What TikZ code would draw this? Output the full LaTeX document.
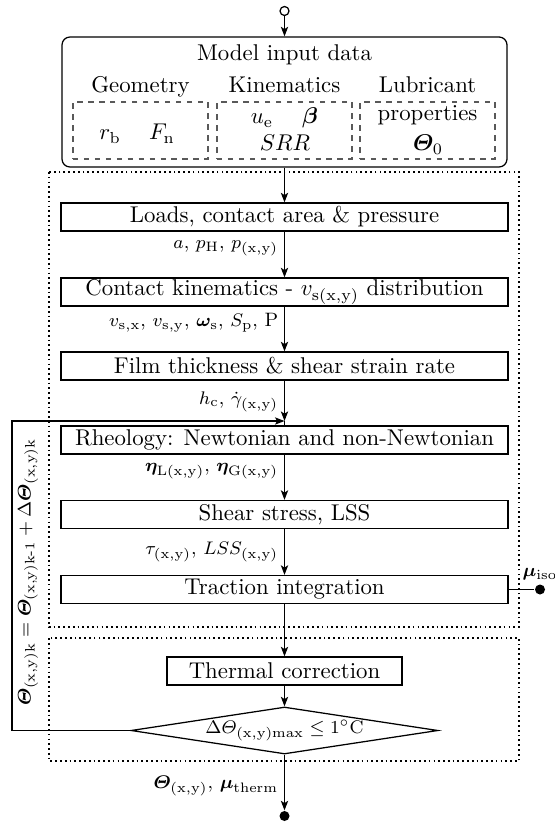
\documentclass[tikz,border=0pt]{standalone}
\usepackage{amsmath,bm}
\usetikzlibrary{arrows.meta,shapes.geometric}
\newcommand\pxl[1]{#1*0.4386pt}
\newcommand\labsize{\fontsize{8.5}{10}\selectfont}
\begin{document}
\begin{tikzpicture}[x=0.4386pt,y=-0.4386pt, line width=0.55pt,
  arr/.style={-{Stealth[length=4.2pt,width=3.2pt,inset=1pt]}},
  proc/.style={draw, rectangle, inner sep=0pt, minimum width=\pxl{447}, minimum height=\pxl{28}},
  dashbox/.style={draw=black!65, line width=0.45pt, dash pattern=on 2.4pt off 2.4pt, rectangle, inner sep=0pt, minimum width=\pxl{135}, minimum height=\pxl{57}},
  dotbox/.style={line width=0.75pt, dash pattern=on 0.75pt off 1.35pt},
  lab/.style={left, inner sep=2.5pt, font=\labsize},
  inb/.style={anchor=base, inner sep=0pt},
  dotnode/.style={circle, fill, inner sep=0pt, minimum size=\pxl{10}}]
\useasboundingbox (0,0) rectangle (555,828);
\clip (0,0) rectangle (555,828);

% dotted groups
\draw[dotbox] (49,172) rectangle (519,627);
\draw[dotbox] (49,638) rectangle (519,761);

% input block
\node[circle, draw, inner sep=0pt, minimum size=\pxl{9}] (start) at (284.5,11) {};
\node[draw, rounded corners=3.5pt, inner sep=0pt, minimum width=\pxl{445}, minimum height=\pxl{130}] (input) at (284.5,102) {};
\node[inb] (title) at (284.5,61) {Model input data};
\node[inb] (hgeo) at (140.5,93) {Geometry};
\node[inb] (hkin) at (284.5,93) {Kinematics};
\node[inb] (hlub) at (427.5,93) {Lubricant};
\node[dashbox] (bgeo) at (140.5,130.5) {};
\node[dashbox] (bkin) at (284.5,130.5) {};
\node[dashbox] (blub) at (427.5,130.5) {};
\node[inb] (rb) at (110,140) {$r_{\mathrm{b}}$};
\node[inb] (fn) at (162,140) {$F_{\mathrm{n}}$};
\node[inb] (ue) at (262,124) {$u_{\mathrm{e}}$};
\node[inb] (beta) at (310,124) {$\bm{\beta}$};
\node[inb] (srr) at (285,151) {$SRR$};
\node[inb] (lub1) at (427.5,121) {properties};
\node[inb] (lub2) at (428,151) {$\bm{\varTheta}_{0}$};

% process boxes
\node[proc] (loads) at (284.5,217) {Loads, contact area \& pressure};
\node[proc] (kinem) at (284.5,292) {Contact kinematics - $v_{\mathrm{s(x,y)}}$ distribution};
\node[proc] (film) at (284.5,366) {Film thickness \& shear strain rate};
\node[proc] (rheo) at (284.5,440) {Rheology: Newtonian and non-Newtonian};
\node[proc] (shear) at (284.5,514.5) {Shear stress, LSS};
\node[proc] (tract) at (284.5,589.5) {Traction integration};
\node[draw, rectangle, inner sep=0pt, minimum width=\pxl{235}, minimum height=\pxl{28}] (thermal) at (284.5,671) {Thermal correction};
\node[draw, diamond, aspect=6.5, inner sep=0pt, minimum width=\pxl{307}, minimum height=\pxl{47}, font=\labsize] (check) at (284.5,730.5)
  {$\Delta\varTheta_{\mathrm{(x,y)max}} \leq 1^{\circ}\mathrm{C}$};

\coordinate (join) at (284.5,421);
\coordinate (looptl) at (12,421);
\node[dotnode] (muiso) at (540,589.5) {};
\node[above=1.5pt, inner sep=0pt, font=\labsize] (muisolab) at (muiso.north) {$\bm{\mu}_{\mathrm{iso}}$};
\node[dotnode] (finish) at (284.5,816) {};

% connectors
\draw[arr] (start) -- (input);
\draw[arr] (input) -- (loads);
\draw[arr] (loads) -- node[lab, pos=0.36] {$a$, $p_{\mathrm{H}}$, $p_{\mathrm{(x,y)}}$} (kinem);
\draw[arr] (kinem) -- node[lab, pos=0.36] {$v_{\mathrm{s,x}}$, $v_{\mathrm{s,y}}$, $\bm{\omega}_{\mathrm{s}}$, $S_{\mathrm{p}}$, P} (film);
\draw[arr] (film) -- node[lab, pos=0.52] {$h_{\mathrm{c}}$, $\dot{\gamma}_{\mathrm{(x,y)}}$} (join);
\draw (join) -- (rheo);
\draw[arr] (rheo) -- node[lab, pos=0.36] {$\bm{\eta}_{\mathrm{L(x,y)}}$, $\bm{\eta}_{\mathrm{G(x,y)}}$} (shear);
\draw[arr] (shear) -- node[lab, pos=0.5] {$\tau_{\mathrm{(x,y)}}$, $LSS_{\mathrm{(x,y)}}$} (tract);
\draw (tract) -- (muiso);
\draw[arr] (tract) -- (thermal);
\draw[arr] (thermal) -- (check);
\draw[arr] (check) -- node[lab, pos=0.57] {$\bm{\varTheta}_{\mathrm{(x,y)}}$, $\bm{\mu}_{\mathrm{therm}}$} (finish);
\draw[arr] (check.west) -- (check.west -| looptl) -- (looptl) -- (join);
\node[rotate=90, font=\labsize] (loopeq) at (28,572)
  {$\bm{\varTheta}_{\mathrm{(x,y)k}} = \bm{\varTheta}_{\text{(x,y)k-1}} + \Delta\bm{\varTheta}_{\mathrm{(x,y)k}}$};
\end{tikzpicture}
\end{document}
